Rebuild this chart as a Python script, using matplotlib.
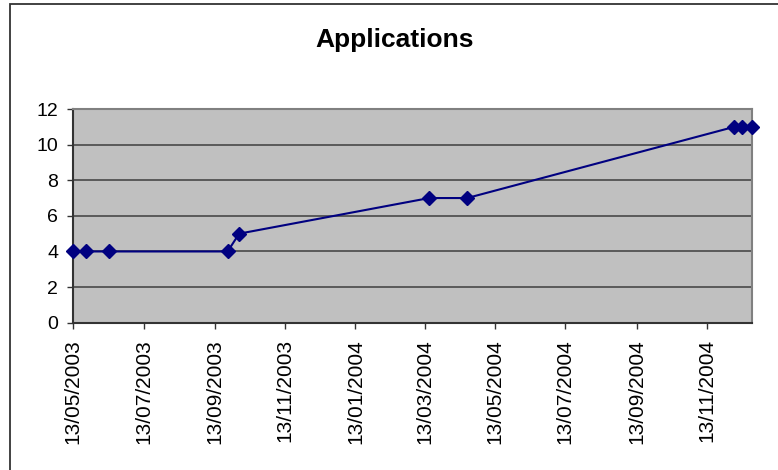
import matplotlib
matplotlib.use("Agg")
import matplotlib.pyplot as plt
from matplotlib.patches import Rectangle
from datetime import datetime

# --- data ---
dates = ["13/05/2003", "24/05/2003", "13/06/2003", "24/09/2003", "04/10/2003",
         "17/03/2004", "19/04/2004", "07/12/2004", "14/12/2004", "22/12/2004"]
applications = [4, 4, 4, 4, 5, 7, 7, 11, 11, 11]

tick_dates = ["13/05/2003", "13/07/2003", "13/09/2003", "13/11/2003", "13/01/2004",
              "13/03/2004", "13/05/2004", "13/07/2004", "13/09/2004", "13/11/2004"]
y_ticks = [0, 2, 4, 6, 8, 10, 12]


def to_date(s):
    return datetime.strptime(s, "%d/%m/%Y")


x = [to_date(d) for d in dates]
xt = [to_date(d) for d in tick_dates]

plt.rcParams["font.family"] = ["Liberation Sans", "DejaVu Sans"]

W, H = 778, 470
fig = plt.figure(figsize=(W / 100, H / 100), dpi=100)
fig.patch.set_facecolor("white")

# outer chart-area border (clipped at right/bottom like the reference)
fig.add_artist(Rectangle((10 / W, -0.05), 1.2, 1 - 4 / H + 0.05, transform=fig.transFigure,
                         fill=False, edgecolor="#333333", linewidth=1.3))

ax = fig.add_axes([73.3 / W, 1 - 322.7 / H, (751.7 - 73.3) / W, (322.7 - 109) / H])
ax.set_facecolor("#C0C0C0")

ax.plot(x, applications, color="#000080", linewidth=1.5, marker="D", markersize=7.5,
        markerfacecolor="#000080", markeredgecolor="#000080", clip_on=False, zorder=5)

ax.set_xlim(x[0], x[-1])
ax.set_ylim(0, 12)
ax.set_yticks(y_ticks)
ax.set_yticklabels([str(v) for v in y_ticks])
ax.set_xticks(xt)
ax.set_xticklabels(tick_dates, rotation=90)

ax.yaxis.grid(True, color="#5A5A5A", linewidth=1.4)
ax.set_axisbelow(True)

for side in ["top", "right"]:
    ax.spines[side].set_color("#808080")
    ax.spines[side].set_linewidth(1.5)
for side in ["left", "bottom"]:
    ax.spines[side].set_color("#333333")
    ax.spines[side].set_linewidth(1.5)

ax.tick_params(axis="both", direction="out", length=4, width=1, color="#333333",
               labelcolor="black")
ax.tick_params(axis="y", pad=7, labelsize=14)
ax.tick_params(axis="x", pad=8, labelsize=15)

fig.text(395 / W, 1 - 40 / H, "Applications", ha="center", va="center",
         fontsize=19, fontweight="bold")

fig.savefig("out.png", dpi=100)
